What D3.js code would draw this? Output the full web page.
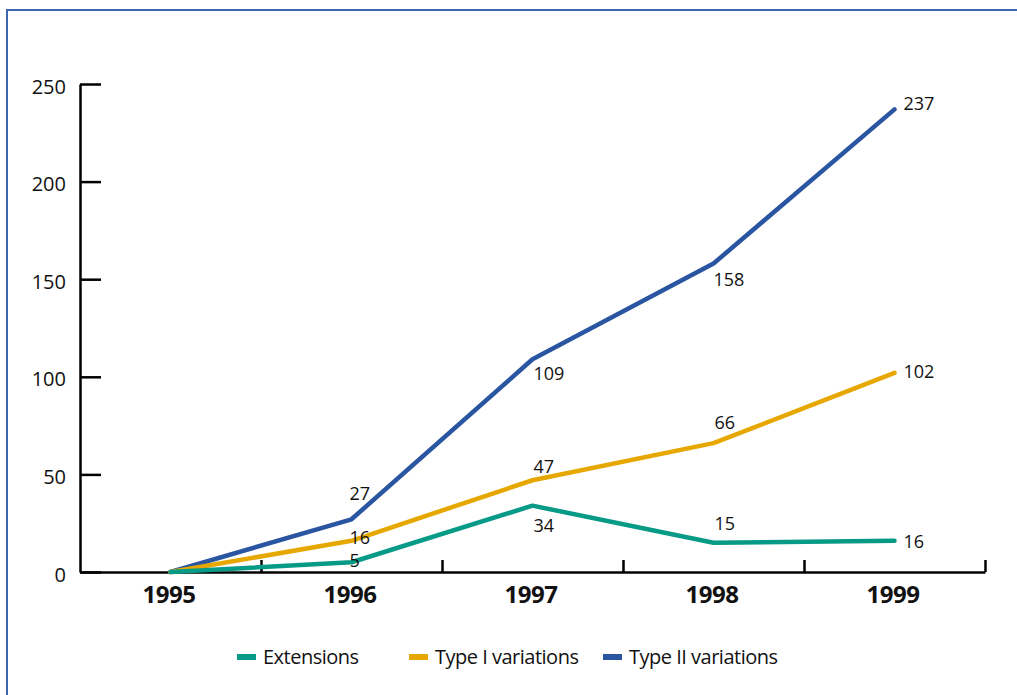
<!DOCTYPE html>
<html>
<head>
<meta charset="utf-8">
<script src="https://cdn.jsdelivr.net/npm/d3@7"></script>
<style>
  body { margin: 0; background: #fff; }
  text { font-family: "Open Sans", sans-serif; fill: #111; }
</style>
</head>
<body>
<script>
var years = [1995, 1996, 1997, 1998, 1999];
var yTicks = [0, 50, 100, 150, 200, 250];
var seriesNames = ['Extensions', 'Type I variations', 'Type II variations'];
var extensions = [0, 5, 34, 15, 16];
var typeOne = [0, 16, 47, 66, 102];
var typeTwo = [0, 27, 109, 158, 237];

var width = 1017,
    height = 695;

var colors = ['#079a87', '#e6a800', '#2a55a1'];

// label offsets (dx, dy) from each point, 1995 has no label
var labelOffsets = [
  [null, [-2, 5], [1, 26], [1, -13], [9, 7]],
  [null, [-2, 3], [1, -7], [1, -14], [9, 5]],
  [null, [-2, -19], [1, 21], [0, 22], [9, 1]]
];

var series = [extensions, typeOne, typeTwo].map(function (vals, i) {
  return {
    name: seriesNames[i],
    color: colors[i],
    offsets: labelOffsets[i],
    points: vals.map(function (v, j) { return { year: years[j], value: v }; })
  };
});

var svg = d3.select('body')
  .append('svg')
  .attr('width', width)
  .attr('height', height);

svg.append('rect')
  .attr('x', 7)
  .attr('y', 10)
  .attr('width', 1030)
  .attr('height', 700)
  .attr('fill', 'none')
  .attr('stroke', '#3d66b0')
  .attr('stroke-width', 2);

var x = d3.scaleLinear()
  .domain([1994.5, 1999.5])
  .range([80, 985]);

var y = d3.scaleLinear()
  .domain([0, 250])
  .range([572, 84]);

// y axis, ticks pointing inward
var yAxis = svg.append('g')
  .attr('transform', 'translate(80,0)')
  .call(d3.axisLeft(y).tickValues(yTicks).tickSizeInner(-21).tickSizeOuter(0).tickPadding(14));

yAxis.selectAll('text')
  .style('font-size', '20px')
  .attr('dy', '0.45em');

// x axis boundary ticks
var xAxis = svg.append('g')
  .attr('transform', 'translate(0,572)')
  .call(d3.axisBottom(x)
    .tickValues([1995.5, 1996.5, 1997.5, 1998.5, 1999.5])
    .tickSizeInner(-12).tickSizeOuter(0).tickFormat(''));

// year labels
var xLabels = svg.append('g')
  .attr('transform', 'translate(0,572)')
  .call(d3.axisBottom(x).tickValues(years).tickSize(0).tickPadding(14).tickFormat(d3.format('d')));
xLabels.select('.domain').remove();
xLabels.selectAll('text')
  .attr('dx', -2)
  .style('font-size', '24px')
  .style('font-weight', 'bold')
  .style('letter-spacing', '-0.5px');

svg.selectAll('.domain, .tick line')
  .attr('stroke', '#000')
  .attr('stroke-width', 2.5);

var line = d3.line()
  .x(function (d) { return x(d.year); })
  .y(function (d) { return y(d.value); });

svg.selectAll('path.series')
  .data(series.slice().reverse())
  .enter().append('path')
  .attr('class', 'series')
  .attr('d', function (d) { return line(d.points); })
  .attr('fill', 'none')
  .attr('stroke', function (d) { return d.color; })
  .attr('stroke-width', 4.5)
  .attr('stroke-linejoin', 'round')
  .attr('stroke-linecap', 'round');

series.forEach(function (s) {
  svg.selectAll(null)
    .data(s.points.slice(1))
    .enter().append('text')
    .attr('x', function (d, i) { return x(d.year) + s.offsets[i + 1][0]; })
    .attr('y', function (d, i) { return y(d.value) + s.offsets[i + 1][1]; })
    .style('font-size', '18px')
    .text(function (d) { return d.value; });
});

// legend
var legendX = [237, 409, 603];
var legend = svg.selectAll('g.legend')
  .data(series)
  .enter().append('g')
  .attr('class', 'legend')
  .attr('transform', function (d, i) { return 'translate(' + legendX[i] + ',657)'; });

legend.append('rect')
  .attr('x', 0)
  .attr('y', -3)
  .attr('width', 19)
  .attr('height', 6)
  .attr('fill', function (d) { return d.color; });

legend.append('text')
  .attr('x', 26)
  .attr('y', 7)
  .style('font-size', '20px')
  .style('letter-spacing', '-0.5px')
  .text(function (d) { return d.name; });
</script>
</body>
</html>
